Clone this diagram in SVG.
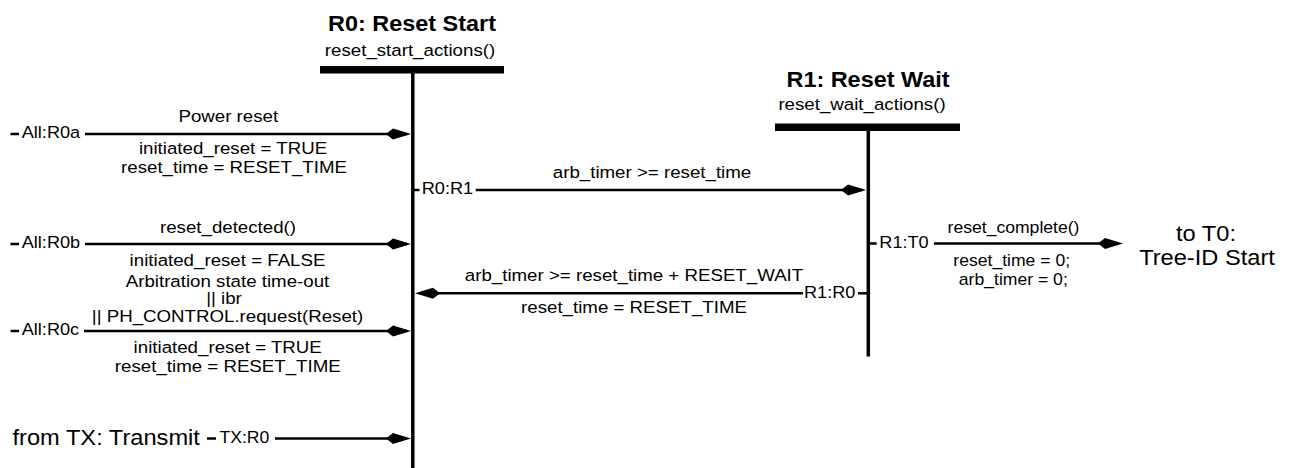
<svg xmlns="http://www.w3.org/2000/svg" width="1289" height="468" viewBox="0 0 1289 468">
<defs>
<style>
text{font-family:"Liberation Sans",Arial,Helvetica,sans-serif;fill:#000;font-size:17px;text-anchor:middle}
.title{font-weight:bold;font-size:21.3px}
.port{font-size:16.5px;text-anchor:start}
.tx{font-size:16px;text-anchor:start}
.big{font-size:21.5px}
.bigs{font-size:21.5px;text-anchor:start}
.sm{font-size:16px}
.bar{fill:#000}
.state{stroke:#000;stroke-width:3.5;fill:none}
.conn{stroke:#000;stroke-width:2.5;fill:none}
.arr{stroke:#000;stroke-width:2.5;fill:none;marker-end:url(#ah)}
</style>
<marker id="ah" markerUnits="userSpaceOnUse" viewBox="0 0 25 11" refX="21" refY="5.5" markerWidth="25" markerHeight="11" orient="auto" overflow="visible">
<path d="M25,5.5 L7,0 L0,5.5 L7,11 Z" fill="#000"/>
</marker>
</defs>
<rect width="1289" height="468" fill="#fff"/>

<g id="R0">
<text class="title" transform="translate(412 31) scale(1.1 1)">R0: Reset Start</text>
<text transform="translate(410 55.5) scale(1.1 1)">reset_start_actions()</text>
<rect class="bar" x="320" y="66" width="184" height="7.5"/>
<line class="state" x1="412.8" y1="73" x2="412.8" y2="468"/>
</g>

<g id="R1">
<text class="title" transform="translate(868 87) scale(1.1 1)">R1: Reset Wait</text>
<text transform="translate(862 110) scale(1.1 1)">reset_wait_actions()</text>
<rect class="bar" x="775" y="123.5" width="185" height="7.5"/>
<line class="state" x1="868.3" y1="131" x2="868.3" y2="356.5"/>
</g>

<g id="TX">
<text class="bigs" transform="translate(12.5 445) scale(1.1 1)">from TX: Transmit</text>
</g>

<g id="T0">
<text class="big" transform="translate(1206 241) scale(1.1 1)">to T0:</text>
<text class="big" transform="translate(1207 264.5) scale(1.1 1)">Tree-ID Start</text>
</g>

<g id="connectors">
<g id="c-All-R0a">
<line class="conn" x1="10.5" y1="134" x2="19" y2="134"/>
<text class="port" transform="translate(21.7 138.2) scale(1.1 1)">All:R0a</text>
<line class="arr" x1="85" y1="134" x2="407" y2="134"/>
<text transform="translate(228.3 122.3) scale(1.1 1)">Power reset</text>
<text transform="translate(233 153.5) scale(1.1 1)">initiated_reset = TRUE</text>
<text transform="translate(234 172.5) scale(1.1 1)">reset_time = RESET_TIME</text>
</g>
<g id="c-R0-R1">
<line class="conn" x1="413" y1="190" x2="419.5" y2="190"/>
<text class="port" transform="translate(421.7 194.2) scale(1.1 1)">R0:R1</text>
<line class="arr" x1="475.7" y1="190" x2="862" y2="190"/>
<text transform="translate(652 178) scale(1.1 1)">arb_timer &gt;= reset_time</text>
</g>
<g id="c-All-R0b">
<line class="conn" x1="10.5" y1="244" x2="19" y2="244"/>
<text class="port" transform="translate(21.7 248.2) scale(1.1 1)">All:R0b</text>
<line class="arr" x1="85" y1="244" x2="407" y2="244"/>
<text transform="translate(228 233) scale(1.1 1)">reset_detected()</text>
<text transform="translate(227.5 266) scale(1.1 1)">initiated_reset = FALSE</text>
</g>
<g id="c-R1-T0">
<line class="conn" x1="868" y1="243.5" x2="876.7" y2="243.5"/>
<text class="port" transform="translate(879.3 247.7) scale(1.1 1)">R1:T0</text>
<line class="arr" x1="934" y1="243.5" x2="1119" y2="243.5"/>
<text class="sm" transform="translate(1013.5 232.5) scale(1.1 1)">reset_complete()</text>
<text class="sm" transform="translate(1011.7 265.5) scale(1.1 1)">reset_time = 0;</text>
<text class="sm" transform="translate(1013.3 285) scale(1.1 1)">arb_timer = 0;</text>
</g>
<g id="c-R1-R0">
<line class="conn" x1="858" y1="293.3" x2="868" y2="293.3"/>
<text class="port" transform="translate(804 297.5) scale(1.1 1)">R1:R0</text>
<line class="arr" x1="803" y1="293.3" x2="419" y2="293.3"/>
<text transform="translate(634 281) scale(1.1 1)">arb_timer &gt;= reset_time + RESET_WAIT</text>
<text transform="translate(634 313) scale(1.1 1)">reset_time = RESET_TIME</text>
</g>
<g id="c-All-R0c">
<line class="conn" x1="10.5" y1="331" x2="19" y2="331"/>
<text class="port" transform="translate(21.7 335.2) scale(1.1 1)">All:R0c</text>
<line class="arr" x1="84" y1="331" x2="407" y2="331"/>
<text transform="translate(227.5 286.5) scale(1.1 1)">Arbitration state time-out</text>
<text transform="translate(224 304) scale(1.1 1)">|| ibr</text>
<text transform="translate(227.5 321.5) scale(1.1 1)">|| PH_CONTROL.request(Reset)</text>
<text transform="translate(227.7 353) scale(1.1 1)">initiated_reset = TRUE</text>
<text transform="translate(227.8 372) scale(1.1 1)">reset_time = RESET_TIME</text>
</g>
<g id="c-TX-R0">
<line class="conn" x1="207" y1="438.5" x2="216" y2="438.5"/>
<text class="tx" transform="translate(219.5 443.3) scale(1.1 1)">TX:R0</text>
<line class="arr" x1="275" y1="438.5" x2="407" y2="438.5"/>
</g>
</g>
</svg>
